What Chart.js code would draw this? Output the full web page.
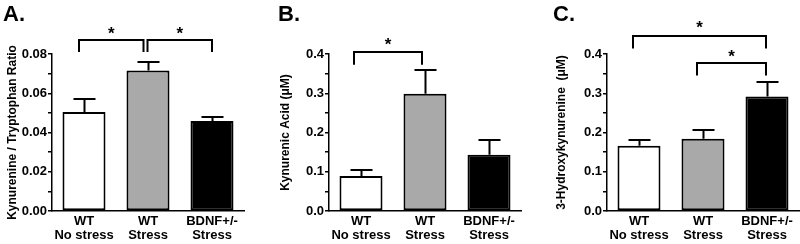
<!DOCTYPE html>
<html><head><meta charset="utf-8">
<script src="https://cdn.jsdelivr.net/npm/chart.js@4/dist/chart.umd.min.js"></script>
<style>
html,body{margin:0;padding:0;background:#fff;width:800px;height:244px;overflow:hidden}
.p{position:absolute;top:0;height:244px}
</style></head><body>
<div class="p" style="left:0;width:250px"><canvas id="cA"></canvas></div>
<div class="p" style="left:262px;width:268px"><canvas id="cB"></canvas></div>
<div class="p" style="left:540px;width:260px"><canvas id="cC"></canvas></div>
<script>
// ---- data ----
const categories = [['WT', 'No stress'], ['WT', 'Stress'], ['BDNF+/-', 'Stress']];
const barColors = ['#ffffff', '#a9a9a9', '#000000'];

const kynTrpMeans  = [0.0505, 0.0716, 0.0458];
const kynTrpErrors = [0.0067, 0.0043, 0.0020];

const kynAcidMeans  = [0.089, 0.299, 0.143];
const kynAcidErrors = [0.015, 0.061, 0.038];

const hydroxyMeans  = [0.166, 0.184, 0.292];
const hydroxyErrors = [0.014, 0.023, 0.037];

const yTicksA      = [0, 0.01, 0.02, 0.03, 0.04, 0.05, 0.06, 0.07, 0.08];
const yTickLabelsA = ['0.00', '', '0.02', '', '0.04', '', '0.06', '', '0.08'];
const yTicksBC      = [0, 0.05, 0.1, 0.15, 0.2, 0.25, 0.3, 0.35, 0.4];
const yTickLabelsBC = ['0.0', '', '0.1', '', '0.2', '', '0.3', '', '0.4'];

// significance comparisons (category indices)
const sigPairsA = [[0, 1], [1, 2]];
const sigPairsB = [[0, 1]];
const sigPairsC = [[0, 2], [1, 2]];

// ---- drawing ----
const FONT = "'Liberation Sans', Arial, Helvetica, sans-serif";

const annot = {
  id: 'annot',
  afterDatasetsDraw(chart, args, o) {
    const ctx = chart.ctx, xs = chart.scales.x, ys = chart.scales.y;
    const vals = chart.data.datasets[0].data;
    ctx.save();
    ctx.strokeStyle = '#000';
    ctx.lineWidth = 2;
    // error bars (upper only)
    o.errors.forEach((e, i) => {
      const cx = Math.round(xs.getPixelForValue(i)) + 0.5;
      const top = ys.getPixelForValue(vals[i]);
      const end = Math.round(ys.getPixelForValue(vals[i] + e));
      ctx.beginPath();
      ctx.moveTo(cx, top); ctx.lineTo(cx, end);
      ctx.moveTo(cx - 11, end); ctx.lineTo(cx + 11, end);
      ctx.stroke();
    });
    // significance brackets
    o.pairs.forEach((p, k) => {
      const lv = o.levels[k];
      const x1 = xs.getPixelForValue(p[0]) + lv.dx[0];
      const x2 = xs.getPixelForValue(p[1]) + lv.dx[1];
      const yt = Math.round(ys.getPixelForValue(lv.top));
      const yl = ys.getPixelForValue(lv.leg);
      ctx.beginPath();
      ctx.moveTo(x1, yl); ctx.lineTo(x1, yt); ctx.lineTo(x2, yt); ctx.lineTo(x2, yl);
      ctx.stroke();
      ctx.fillStyle = '#000';
      ctx.font = 'bold 17px ' + FONT;
      ctx.textAlign = 'center';
      ctx.textBaseline = 'alphabetic';
      ctx.fillText('*', (x1 + x2) / 2, ys.getPixelForValue(lv.star) + 10);
    });
    // panel letter
    ctx.fillStyle = '#000';
    ctx.font = 'bold 22px ' + FONT;
    ctx.textAlign = 'left';
    ctx.textBaseline = 'alphabetic';
    ctx.fillText(o.letter, o.letterX, 21);
    ctx.restore();
  }
};

function makeChart(id, means, errors, cfg) {
  return new Chart(document.getElementById(id), {
    type: 'bar',
    data: {
      labels: categories,
      datasets: [{
        data: means,
        backgroundColor: barColors,
        borderColor: '#000',
        borderWidth: 2,
        borderSkipped: false,
        barPercentage: 0.672,
        categoryPercentage: 1
      }]
    },
    options: {
      responsive: true,
      maintainAspectRatio: false,
      animation: false,
      layout: { padding: { top: 54, right: cfg.padRight, left: 0, bottom: 0 } },
      plugins: {
        legend: { display: false },
        tooltip: { enabled: false },
        annot: { errors: errors, pairs: cfg.pairs, levels: cfg.levels, letter: cfg.letter, letterX: cfg.letterX }
      },
      scales: {
        x: {
          grid: { display: false, drawTicks: false },
          border: { display: true, color: '#000', width: 1.5 },
          ticks: { color: '#000', font: { family: FONT, size: 13, weight: 'bold', lineHeight: 1.05 }, padding: 4, maxRotation: 0, autoSkip: false },
          afterFit(s) { s.height = 33; }
        },
        y: {
          min: 0, max: cfg.max,
          afterBuildTicks(s) { s.ticks = cfg.tickValues.map(v => ({ value: v })); },
          ticks: {
            color: '#000', padding: 1,
            font: { family: FONT, size: 13, weight: 'bold' },
            callback: (v, i) => cfg.tickLabels[i]
          },
          grid: { drawOnChartArea: false, drawTicks: true, tickLength: 4, color: '#000', lineWidth: 1.5 },
          border: { display: true, color: '#000', width: 1.5 },
          title: { display: true, text: cfg.title, color: '#000', font: { family: FONT, size: 12, weight: 'bold' }, padding: { top: cfg.titlePad, bottom: 0 } },
          afterFit(s) { s.width = cfg.axisW; }
        }
      }
    },
    plugins: [annot]
  });
}

makeChart('cA', kynTrpMeans, kynTrpErrors, {
  max: 0.08, tickValues: yTicksA, tickLabels: yTickLabelsA,
  title: 'Kynurenine / Tryptophan Ratio', titlePad: 5, axisW: 52, padRight: 6,
  letter: 'A.', letterX: 3, pairs: sigPairsA,
  levels: [
    { top: 0.0869, leg: 0.081, star: 0.0929, dx: [-5, -4.5] },
    { top: 0.0869, leg: 0.081, star: 0.0929, dx: [-0.5, 0] }
  ]
});

makeChart('cB', kynAcidMeans, kynAcidErrors, {
  max: 0.4, tickValues: yTicksBC, tickLabels: yTickLabelsBC,
  title: 'Kynurenic Acid (\u03bcM)', titlePad: 16, axisW: 67, padRight: 9,
  letter: 'B.', letterX: 16, pairs: sigPairsB,
  levels: [
    { top: 0.405, leg: 0.3727, star: 0.4365, dx: [-7, -3] }
  ]
});

makeChart('cC', hydroxyMeans, hydroxyErrors, {
  max: 0.4, tickValues: yTicksBC, tickLabels: yTickLabelsBC,
  title: '3-Hydroxykynurenine  (\u03bcM)', titlePad: 14.5, axisW: 67, padRight: 1,
  letter: 'C.', letterX: 13, pairs: sigPairsC,
  levels: [
    { top: 0.445, leg: 0.414, star: 0.479, dx: [-6, -1] },
    { top: 0.3765, leg: 0.345, star: 0.4055, dx: [-6, -1] }
  ]
});
</script>
</body></html>
